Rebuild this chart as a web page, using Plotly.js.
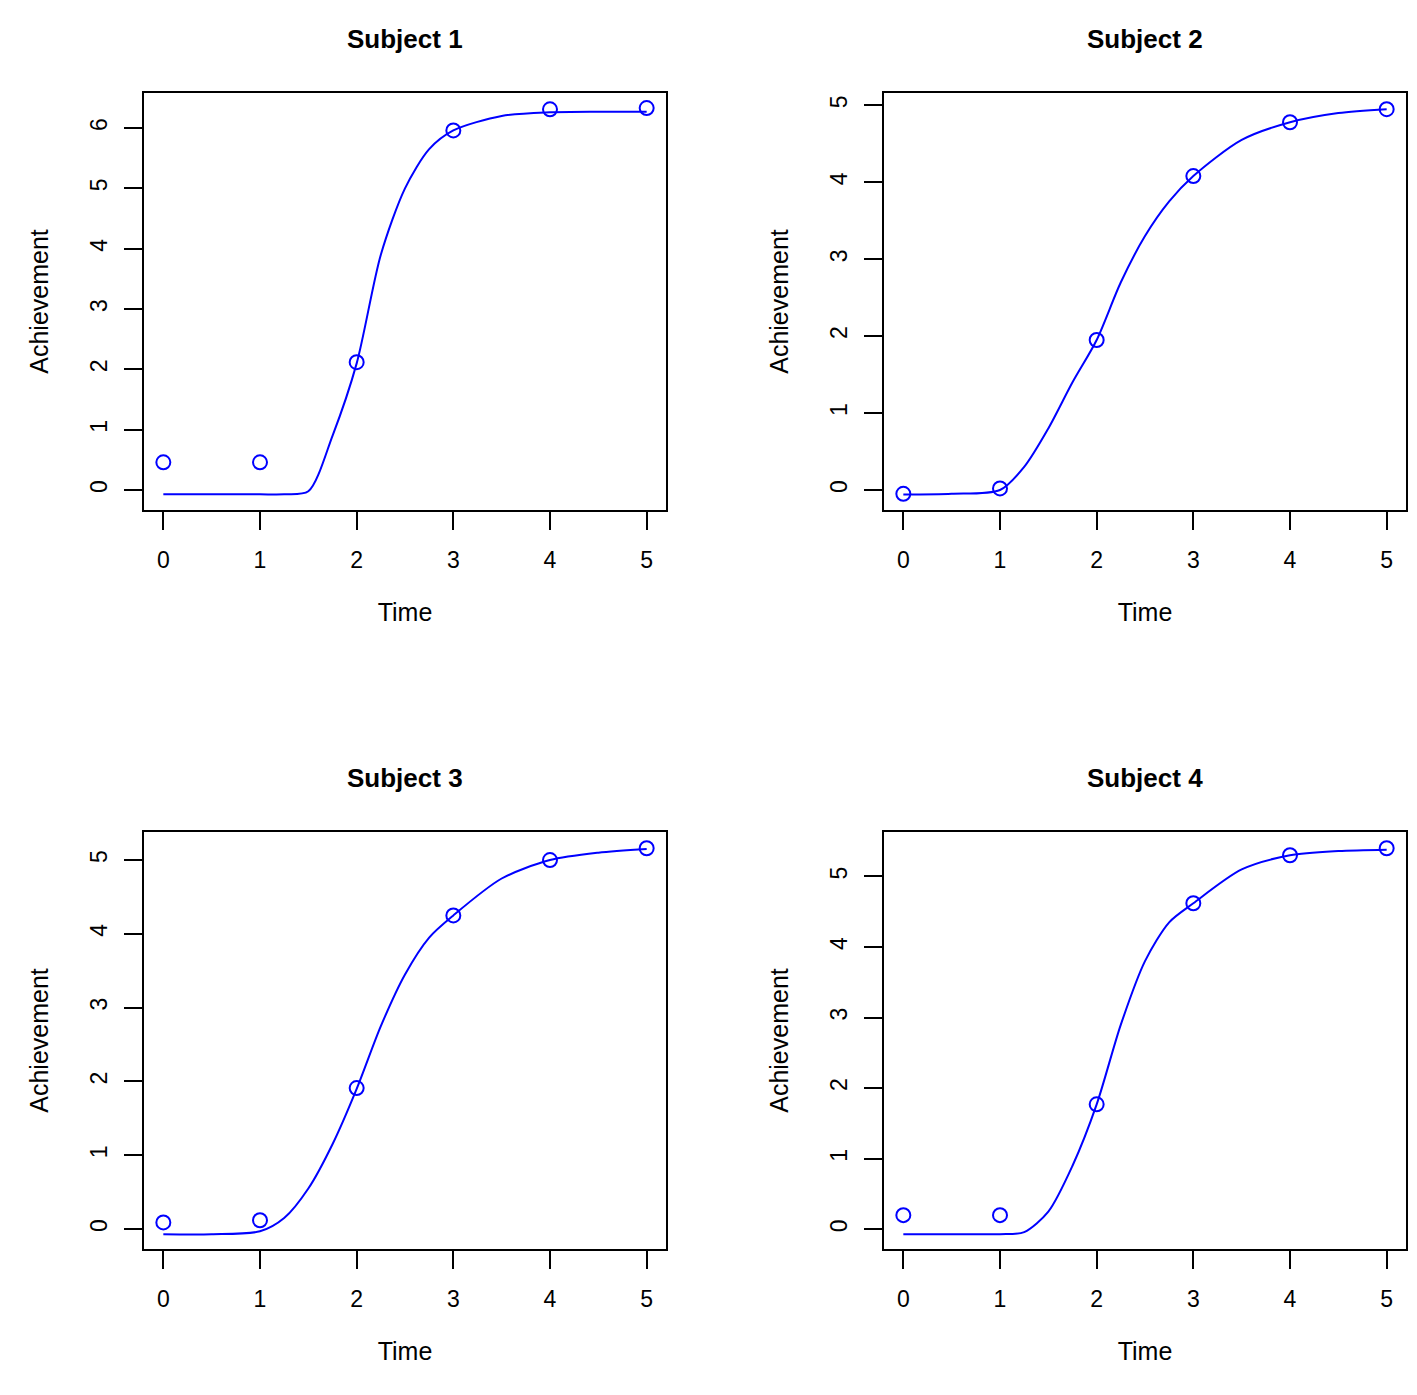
<!DOCTYPE html>
<html>
<head>
<meta charset="utf-8">
<script src="https://cdn.plot.ly/plotly-3.0.1.min.js"></script>
<style>body{margin:0;background:#fff}#plot{width:1417px;height:1395px}</style>
</head>
<body>
<div id="plot"></div>
<script>
// Observed time points
const timePts = [0, 1, 2, 3, 4, 5];
const obs1 = [0.46, 0.46, 2.12, 5.96, 6.31, 6.33];
const obs2 = [-0.05, 0.02, 1.95, 4.08, 4.78, 4.95];
const obs3 = [0.09, 0.12, 1.91, 4.25, 5.0, 5.16];
const obs4 = [0.2, 0.2, 1.77, 4.62, 5.3, 5.4];

// Fitted curves
const curveT = [0, 0.5, 1, 1.25, 1.5, 1.75, 2, 2.25, 2.5, 2.75, 3, 3.5, 4, 4.5, 5];
const fit1 = [-0.07, -0.07, -0.07, -0.07, -0.02, 0.9, 2.1, 3.9, 5.0, 5.65, 5.96, 6.2, 6.26, 6.27, 6.27];
const fit2 = [-0.06, -0.05, 0.0, 0.3, 0.8, 1.4, 1.95, 2.7, 3.3, 3.75, 4.08, 4.55, 4.78, 4.9, 4.95];
const fit3 = [-0.07, -0.07, -0.03, 0.15, 0.55, 1.15, 1.9, 2.75, 3.45, 3.95, 4.25, 4.75, 5.0, 5.1, 5.15];
const fit4 = [-0.07, -0.07, -0.07, -0.04, 0.25, 0.9, 1.77, 2.9, 3.8, 4.35, 4.62, 5.1, 5.3, 5.36, 5.38];

const titles = ['Subject 1', 'Subject 2', 'Subject 3', 'Subject 4'];
const obs = [obs1, obs2, obs3, obs4];
const fits = [fit1, fit2, fit3, fit4];
const yRanges = [[-0.33, 6.58], [-0.26, 5.16], [-0.27, 5.38], [-0.28, 5.63]];
const yTicks = [[0, 1, 2, 3, 4, 5, 6], [0, 1, 2, 3, 4, 5], [0, 1, 2, 3, 4, 5], [0, 1, 2, 3, 4, 5]];

const xDomains = [[144 / 1417, 666 / 1417], [884 / 1417, 1406 / 1417]];
const yDomains = [[1 - 510 / 1395, 1 - 93 / 1395], [1 - 1249 / 1395, 1 - 832 / 1395]];

const FONT = 'Liberation Sans, Arial, sans-serif';
const traces = [];
const layout = {
  width: 1417, height: 1395,
  margin: {l: 0, r: 0, t: 0, b: 0},
  paper_bgcolor: '#fff', plot_bgcolor: '#fff',
  showlegend: false,
  font: {family: FONT, size: 23, color: '#000'},
  annotations: [], shapes: []
};

for (let i = 0; i < 4; i++) {
  const n = i + 1;
  const xa = n === 1 ? 'x' : 'x' + n;
  const ya = n === 1 ? 'y' : 'y' + n;
  traces.push({
    x: curveT, y: fits[i], xaxis: xa, yaxis: ya, mode: 'lines',
    line: {color: '#0000ff', width: 2, shape: 'spline', smoothing: 0.8}
  });
  traces.push({
    x: timePts, y: obs[i], xaxis: xa, yaxis: ya, mode: 'markers',
    marker: {symbol: 'circle-open', size: 14, color: '#0000ff', line: {width: 2, color: '#0000ff'}}
  });
  const common = {
    showgrid: false, zeroline: false, showline: true, mirror: true,
    linecolor: '#000', linewidth: 2, ticks: 'outside', ticklen: 18,
    tickwidth: 2, tickcolor: '#000', tickfont: {family: FONT, size: 23}
  };
  layout['xaxis' + (n === 1 ? '' : n)] = Object.assign({}, common, {
    domain: xDomains[i % 2], anchor: ya, range: [-0.2, 5.2],
    tickvals: timePts, ticklabelstandoff: 10,
    title: {text: 'Time', font: {family: FONT, size: 25}, standoff: 32}
  });
  layout['yaxis' + (n === 1 ? '' : n)] = Object.assign({}, common, {
    domain: yDomains[Math.floor(i / 2)], anchor: xa, range: yRanges[i],
    tickvals: yTicks[i], tickangle: -90, ticklabelstandoff: 8,
    title: {text: 'Achievement', font: {family: FONT, size: 25}, standoff: 30}
  });
  layout.annotations.push({
    text: '<b>' + titles[i] + '</b>', showarrow: false,
    xref: xa + ' domain', yref: ya + ' domain', x: 0.5, y: 1.13,
    xanchor: 'center', yanchor: 'middle', font: {family: FONT, size: 26}
  });
}

Plotly.newPlot('plot', traces, layout, {displayModeBar: false, staticPlot: true});
</script>
</body>
</html>
